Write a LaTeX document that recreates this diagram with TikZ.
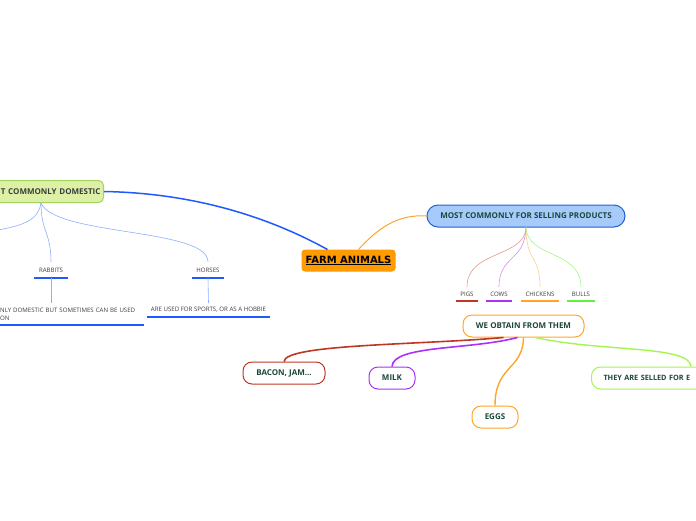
\documentclass[tikz,border=0pt]{standalone}
\usepackage{fontspec}
\setmainfont{Open Sans}
\newfontfamily\titlefont{DejaVu Sans}

\definecolor{domfill}{RGB}{221,241,166}
\definecolor{domline}{RGB}{168,210,96}
\definecolor{sellfill}{RGB}{166,203,250}
\definecolor{sellline}{RGB}{32,96,208}
\definecolor{farmorange}{RGB}{255,154,0}
\definecolor{topictext}{RGB}{28,70,60}
\definecolor{leaftext}{RGB}{60,60,60}
\definecolor{darkblue}{RGB}{30,90,255}
\definecolor{lightblue}{RGB}{140,175,255}
\definecolor{pigred}{RGB}{190,55,35}
\definecolor{cowpurple}{RGB}{170,50,245}
\definecolor{chickorange}{RGB}{255,165,40}
\definecolor{bullgreen}{RGB}{100,240,60}
\definecolor{soldgreen}{RGB}{165,245,80}

\begin{document}
\begin{tikzpicture}[x=1pt, y=-1pt,
  topic/.style = {draw, line width=1pt, rounded corners=#1, minimum height=22pt, inner sep=0pt, text=topictext, font=\bfseries\fontsize{8}{9.5}\selectfont},
  topic/.default = 9pt,
  leaf/.style = {inner sep=0pt, text=leaftext, font=\fontsize{6.1}{8}\selectfont},
  uline/.style = {line width=1.7pt},
  twig/.style = {line width=0.6pt, #1}]

\useasboundingbox (0,0) rectangle (696,520);
\clip (0,0) rectangle (696,520);

% Main topics
\node[topic=3pt, fill=farmorange, draw=farmorange, minimum width=93pt, minimum height=21pt, text=black, font=\titlefont\bfseries\fontsize{10}{11}\selectfont] (farm) at (348.5,260.5) {\underline{FARM ANIMALS}};
\node[topic=5pt, fill=domfill, draw=domline, anchor=east, text width=128pt, align=right, inner xsep=3pt, text=leaftext] (domestic) at (104,191.5) {T COMMONLY DOMESTIC};
\node[topic=11pt, fill=sellfill, draw=sellline, minimum width=198pt] (selling) at (526,216) {MOST COMMONLY FOR SELLING PRODUCTS};

% Domestic leaves
\coordinate (dhub) at (41,203);
\coordinate (hidden) at (-25,233);
\node[leaf, minimum width=34pt, minimum height=16pt] (rabbits) at (51,270) {RABBITS};
\node[leaf, minimum width=32pt, minimum height=16pt] (horses) at (208,270) {HORSES};
\node[leaf, anchor=west, minimum width=144pt, minimum height=22pt, text width=144pt, align=left] (rabbitnote) at (0,314) {NLY DOMESTIC BUT SOMETIMES CAN BE USED\\ON};
\node[leaf, minimum width=123pt, minimum height=14pt] (horsenote) at (208.5,310) {ARE USED FOR SPORTS, OR AS A HOBBIE};

% Selling leaves
\node[leaf, minimum width=22pt, minimum height=14pt] (pigs) at (467,294) {PIGS};
\node[leaf, minimum width=26pt, minimum height=14pt] (cows) at (499,294) {COWS};
\node[leaf, minimum width=38pt, minimum height=14pt] (chickens) at (540,294) {CHICKENS};
\node[leaf, minimum width=28pt, minimum height=14pt] (bulls) at (581,294) {BULLS};

% Products
\node[topic, fill=white, draw=chickorange, minimum width=121pt] (obtain) at (523.5,326) {WE OBTAIN FROM THEM};
\node[topic, fill=white, draw=pigred, minimum width=82pt] (bacon) at (284,373) {BACON, JAM...};
\node[topic, fill=white, draw=cowpurple, minimum width=46pt] (milk) at (392,378) {MILK};
\node[topic, fill=white, draw=chickorange, minimum width=46pt] (eggs) at (495,417) {EGGS};
\node[topic, fill=white, draw=soldgreen, anchor=west, text width=110pt, align=left, inner xsep=12pt, font=\bfseries\fontsize{7.3}{9}\selectfont] (sold) at (591,378) {THEY ARE SELLED FOR E};

% Underlines
\draw[uline, darkblue] (rabbits.south west) -- (rabbits.south east);
\draw[uline, darkblue] (horses.south west) -- (horses.south east);
\draw[uline, darkblue] (rabbitnote.south west) -- (rabbitnote.south east);
\draw[uline, darkblue] (horsenote.south west) -- (horsenote.south east);
\draw[uline, pigred] (pigs.south west) -- (pigs.south east);
\draw[uline, cowpurple] (cows.south west) -- (cows.south east);
\draw[uline, chickorange] (chickens.south west) -- (chickens.south east);
\draw[uline, bullgreen] (bulls.south west) -- (bulls.south east);

% Main connectors
\draw[line width=1.5pt, darkblue] (domestic.east) .. controls (190,193) and (265,215) .. ([xshift=26pt]farm.north west);
\draw[line width=1pt, chickorange] ([xshift=10pt]farm.north) .. controls (378,228) and (398,214) .. (selling.west);

% Domestic branches
\draw[twig=lightblue] (dhub) .. controls (38,222) and (20,228) .. (hidden);
\draw[twig=lightblue] (dhub) .. controls (41,232) and (51,232) .. (rabbits.north);
\draw[twig=lightblue] (dhub) .. controls (55,236) and (208,228) .. (horses.north);
\draw[twig=lightblue] (rabbits.south) -- (rabbits.south |- rabbitnote.north);
\draw[twig=lightblue] (horses.south) -- (horsenote.north);

% Selling branches
\draw[twig={pigred!50}] (selling.south) .. controls (525,258) and (467,250) .. (pigs.north);
\draw[twig={cowpurple!55}] (selling.south) .. controls (525,262) and (499,255) .. (cows.north);
\draw[twig={chickorange!55}] (selling.south) .. controls (526,262) and (540,255) .. (chickens.north);
\draw[twig={bullgreen!60}] (selling.south) .. controls (527,258) and (581,250) .. (bulls.north);

% Product branches
\draw[line width=1.6pt, pigred] ([xshift=-20pt]obtain.south) .. controls (420,345) and (285,344) .. (bacon.north);
\draw[line width=1.6pt, cowpurple] ([xshift=-6pt]obtain.south) .. controls (470,350) and (393,345) .. (milk.north);
\draw[line width=1.4pt, chickorange] (obtain.south) .. controls (523,370) and (495,365) .. (eggs.north);
\draw[line width=1.4pt, soldgreen] ([xshift=12pt]obtain.south) .. controls (600,352) and (690,345) .. ([xshift=100pt]sold.north west);

\end{tikzpicture}
\end{document}
